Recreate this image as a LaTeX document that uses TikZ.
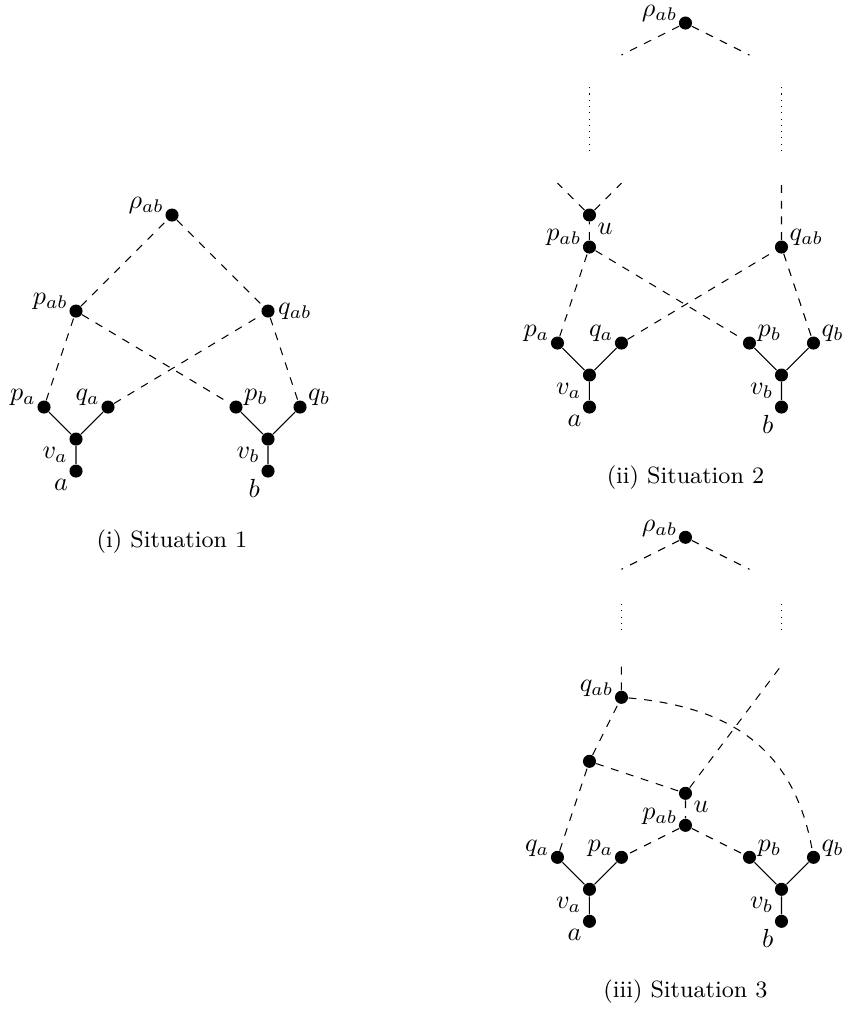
\documentclass[tikz,border=0pt]{standalone}
\tikzset{
    vertex/.style={circle, fill, inner sep=0pt, minimum size=5pt},
    every label/.style={inner sep=1pt},
    al/.style={label={[yshift=-2.7pt]above left:#1}},
    ar/.style={label={[yshift=-2.7pt]above right:#1}},
}
\begin{document}
\begin{tikzpicture}[x=0.43cm, y=0.43cm]
    \useasboundingbox (0, 0) rectangle (26.3125, -31.53);

    \begin{scope}[shift={(2.375, -13.72)}]
        \node[vertex, label=below left:$a$] (a) at (0, -1) {};
        \node[vertex, label=below left:$v_a$] (va) at (0, 0) {};
        \node[vertex, al=$p_a$] (pa) at (-1, 1) {};
        \node[vertex, al=$q_a$] (qa) at (1, 1) {};
        \node[vertex, label=below left:$b$] (b) at (6, -1) {};
        \node[vertex, label=below left:$v_b$] (vb) at (6, 0) {};
        \node[vertex, ar=$p_b$] (pb) at (5, 1) {};
        \node[vertex, ar=$q_b$] (qb) at (7, 1) {};
        \node[vertex, al=$p_{ab}$] (pab) at (0, 4) {};
        \node[vertex, label=right:$q_{ab}$] (qab) at (6, 4) {};
        \node[vertex, al=$\rho_{ab}$] (rho) at (3, 7) {};
        \draw (a) -- (va) (pa) -- (va) -- (qa) (b) -- (vb) (pb) -- (vb) -- (qb);
        \draw[dashed] (pa) -- (pab) -- (pb) (qa) -- (qab) -- (qb);
        \draw[dashed] (pab) -- (rho) -- (qab);
        \node (cap1) at (3, -3.2) {\small (i) Situation 1};
    \end{scope}

    \begin{scope}[shift={(18.42, -11.72)}]
        \node[vertex, label=below left:$a$] (a) at (0, -1) {};
        \node[vertex, label=below left:$v_a$] (va) at (0, 0) {};
        \node[vertex, al=$p_a$] (pa) at (-1, 1) {};
        \node[vertex, al=$q_a$] (qa) at (1, 1) {};
        \node[vertex, label=below left:$b$] (b) at (6, -1) {};
        \node[vertex, label=below left:$v_b$] (vb) at (6, 0) {};
        \node[vertex, ar=$p_b$] (pb) at (5, 1) {};
        \node[vertex, ar=$q_b$] (qb) at (7, 1) {};
        \node[vertex, al=$p_{ab}$] (pab) at (0, 4) {};
        \node[vertex, label=below right:$u$] (u) at (0, 5) {};
        \node[vertex, ar=$q_{ab}$] (qab) at (6, 4) {};
        \node[vertex, al=$\rho_{ab}$] (rho) at (3, 11) {};
        \coordinate (ul) at (-1, 6);
        \coordinate (ur) at (1, 6);
        \coordinate (qtop) at (6, 6);
        \coordinate (lbot) at (0, 7);
        \coordinate (ltop) at (0, 9);
        \coordinate (rbot) at (6, 7);
        \coordinate (rtop) at (6, 9);
        \coordinate (rl) at (1, 10);
        \coordinate (rr) at (5, 10);
        \draw (a) -- (va) (pa) -- (va) -- (qa) (b) -- (vb) (pb) -- (vb) -- (qb);
        \draw[dashed] (pa) -- (pab) -- (pb) (qa) -- (qab) -- (qb);
        \draw[dashed] (pab) -- (u) (u) -- (ul) (u) -- (ur) (qab) -- (qtop);
        \draw[dotted] (lbot) -- (ltop) (rbot) -- (rtop);
        \draw[dashed] (rho) -- (rl) (rho) -- (rr);
        \node (cap2) at (3, -3.2) {\small (ii) Situation 2};
    \end{scope}

    \begin{scope}[shift={(18.42, -27.79)}]
        \node[vertex, label=below left:$a$] (a) at (0, -1) {};
        \node[vertex, label=below left:$v_a$] (va) at (0, 0) {};
        \node[vertex, al=$q_a$] (qa) at (-1, 1) {};
        \node[vertex, al=$p_a$] (pa) at (1, 1) {};
        \node[vertex, label=below left:$b$] (b) at (6, -1) {};
        \node[vertex, label=below left:$v_b$] (vb) at (6, 0) {};
        \node[vertex, ar=$p_b$] (pb) at (5, 1) {};
        \node[vertex, ar=$q_b$] (qb) at (7, 1) {};
        \node[vertex, al=$p_{ab}$] (pab) at (3, 2) {};
        \node[vertex, label=below right:$u$] (u) at (3, 3) {};
        \node[vertex] (w) at (0, 4) {};
        \node[vertex, al=$q_{ab}$] (qab) at (1, 6) {};
        \node[vertex, al=$\rho_{ab}$] (rho) at (3, 11) {};
        \coordinate (qtop) at (1, 7);
        \coordinate (utop) at (6, 7);
        \coordinate (lbot) at (1, 8.1);
        \coordinate (ltop) at (1, 9);
        \coordinate (rbot) at (6, 8.1);
        \coordinate (rtop) at (6, 9);
        \coordinate (rl) at (1, 10);
        \coordinate (rr) at (5, 10);
        \draw (a) -- (va) (qa) -- (va) -- (pa) (b) -- (vb) (pb) -- (vb) -- (qb);
        \draw[dashed] (qa) -- (w) -- (u) -- (pab) -- (pa) (pab) -- (pb);
        \draw[dashed] (w) -- (qab) -- (qtop) (u) -- (utop);
        \draw[dashed] (qab) to[out=-5, in=100, looseness=1.1] (qb);
        \draw[dotted] (lbot) -- (ltop) (rbot) -- (rtop);
        \draw[dashed] (rho) -- (rl) (rho) -- (rr);
        \node (cap3) at (3, -3.2) {\small (iii) Situation 3};
    \end{scope}
\end{tikzpicture}
\end{document}
